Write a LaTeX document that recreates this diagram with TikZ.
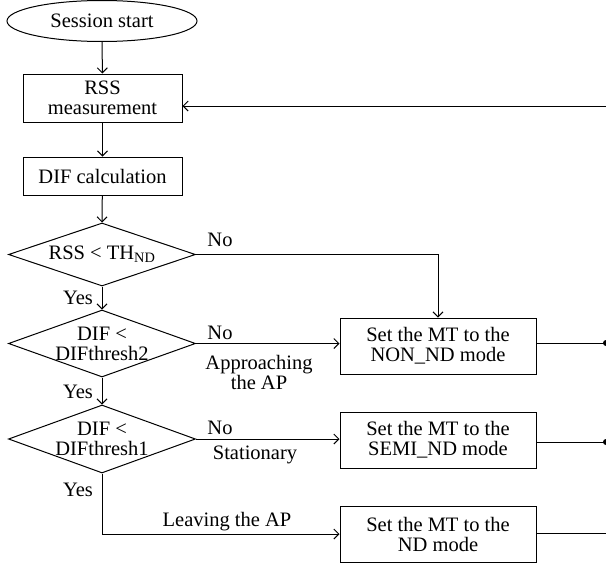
\documentclass[tikz,border=0pt]{standalone}
\usepackage{fontspec}
\setmainfont{Liberation Serif}
\usetikzlibrary{shapes.geometric,arrows.meta}
\begin{document}
\begin{tikzpicture}[x=1pt,y=-1pt,
  every node/.style={font=\fontsize{20.5}{20}\selectfont},
  box/.style={draw,rectangle,line width=1pt,inner sep=0pt,align=center},
  oval/.style={draw,ellipse,line width=1pt,inner sep=0pt,minimum width=190pt,minimum height=41pt},
  dia/.style={draw,diamond,line width=1pt,inner sep=0pt,minimum width=187pt},
  lbl/.style={inner sep=0pt,align=center},
  line/.style={line width=1pt},
  arr/.style={line,-{Straight Barb[length=5pt,width=10pt,line width=1pt]}},
  dot/.style={fill,circle,inner sep=0pt,minimum size=6pt}]
\useasboundingbox (0,0) rectangle (606,565);
\node[oval] (start) at (102,21) {Session start};
\node[box,minimum width=159pt,minimum height=48pt] (rss) at (102.5,98) {RSS\\measurement};
\node[box,minimum width=159pt,minimum height=38pt] (dif) at (102.5,176) {DIF calculation};
\node[dia,minimum height=63pt] (d1) at (102,254.5) {};
\node[lbl] at (d1) {RSS < TH\textsubscript{ND}};
\node[dia,minimum height=67pt] (d2) at (102,343.5) {};
\node[lbl] at (d2) {DIF <\\DIFthresh2};
\node[dia,minimum height=68pt] (d3) at (102,439) {};
\node[lbl] at (d3) {DIF <\\DIFthresh1};
\node[box,minimum width=196pt,minimum height=56pt] (non) at (438,346) {Set the MT to the\\NON\_ND mode};
\node[box,minimum width=196pt,minimum height=56pt] (semi) at (438,440) {Set the MT to the\\SEMI\_ND mode};
\node[box,minimum width=196pt,minimum height=56pt] (nd) at (438,534) {Set the MT to the\\ND mode};
\coordinate (fb) at (606,106);
\coordinate (e1) at (606,343);
\coordinate (e2) at (606,442);
\coordinate (e3) at (606,533);
\draw[arr] (start) -- (rss);
\draw[arr] (rss) -- (dif);
\draw[arr] (dif) -- (d1.north);
\draw[arr] (d1.south) -- (d2.north);
\draw[arr] (d2.south) -- (d3.north);
\draw[arr] (d1.east) -| (non.north);
\draw[arr] (d2.east) -- (d2.east -| non.west);
\draw[arr] (d3.east) -- (d3.east -| semi.west);
\draw[arr] (d3.south) |- (nd.west);
\draw[arr] (fb) -- (fb -| rss.east);
\draw[line] (non.east |- e1) -- (e1);
\draw[line] (semi.east |- e2) -- (e2);
\draw[line] (nd.east |- e3) -- (e3);
\node[dot] at (e1) {};
\node[dot] at (e2) {};
\node[lbl] at (78,298) {Yes};
\node[lbl] at (78,392) {Yes};
\node[lbl] at (78,490) {Yes};
\node[lbl] at (220,240) {No};
\node[lbl] at (220,333) {No};
\node[lbl] at (259,372) {Approaching\\the AP};
\node[lbl] at (220,428) {No};
\node[lbl] at (255,455) {Stationary};
\node[lbl] at (227,522) {Leaving the AP};
\end{tikzpicture}
\end{document}
